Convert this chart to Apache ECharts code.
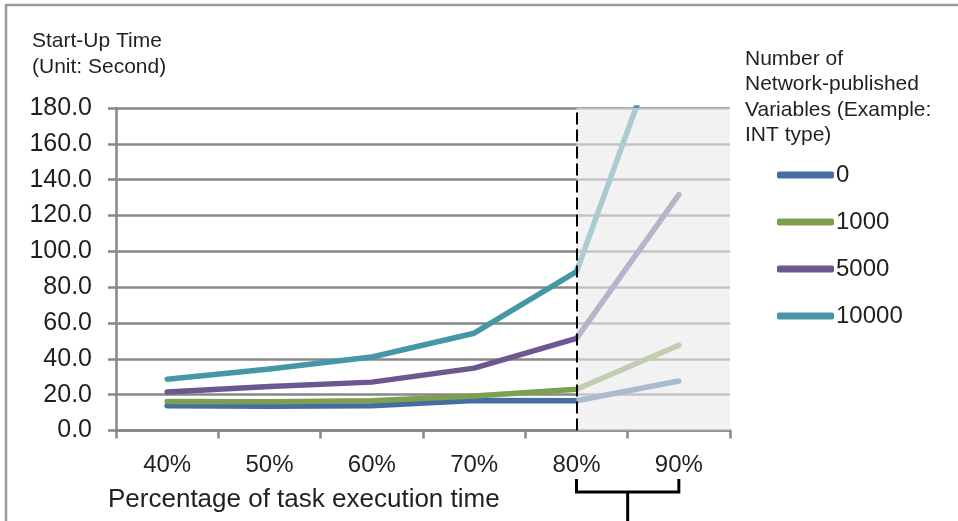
<!DOCTYPE html>
<html>
<head>
<meta charset="utf-8">
<script src="https://cdn.jsdelivr.net/npm/echarts@6/dist/echarts.min.js"></script>
<style>
html,body{margin:0;padding:0;background:#fff;}
#c{width:958px;height:521px;}
</style>
</head>
<body>
<div id="c"></div>
<script>
var categories = ['40%', '50%', '60%', '70%', '80%', '90%'];
var seriesNames = ['0', '1000', '5000', '10000'];
var vals0 = [13.8, 13.5, 13.8, 16.8, 16.6, 27.6];
var vals1000 = [16.2, 16.0, 16.6, 19.2, 23.0, 47.6];
var vals5000 = [21.5, 24.6, 27.0, 34.8, 51.4, 131.7];
var vals10000 = [28.6, 34.3, 41.0, 54.3, 88.7, 246.0];
var yMin = 0, yMax = 180, yStep = 20;
var shadeStart = 4.5, shadeEnd = 6; // on hidden 0..6 axis (80% center to end)

var colors = ['#456ea0', '#7e9f52', '#6b5890', '#4597a8'];
var FONT = 'Liberation Sans, Arial, sans-serif';
var TXT = '#231f20';

var chart = echarts.init(document.getElementById('c'), null, {renderer: 'canvas'});

function mkSeries(name, data, color) {
  return {
    name: name, type: 'line', data: data, xAxisIndex: 0,
    symbol: 'none', showSymbol: false, smooth: false,
    lineStyle: {width: 5.5, color: color, cap: 'round', join: 'round'},
    itemStyle: {color: color}, z: 2
  };
}

var option = {
  animation: false,
  backgroundColor: '#ffffff',
  title: [
    {text: 'Start-Up Time\n(Unit: Second)', left: 27, top: 23,
     textStyle: {fontFamily: FONT, fontSize: 21, fontWeight: 'normal', color: TXT, lineHeight: 26}},
    {text: 'Number of\nNetwork-published\nVariables (Example:\nINT type)', left: 740, top: 41,
     textStyle: {fontFamily: FONT, fontSize: 21, fontWeight: 'normal', color: TXT, lineHeight: 25.5}},
    {text: 'Percentage of task execution time', left: 103, top: 482,
     textStyle: {fontFamily: FONT, fontSize: 26, fontWeight: 'normal', color: TXT}}
  ],
  legend: {
    orient: 'vertical', left: 772, top: 158,
    data: seriesNames,
    icon: 'roundRect', itemWidth: 57, itemHeight: 7, itemGap: 23,
    textStyle: {fontFamily: FONT, fontSize: 24, color: TXT, lineHeight: 24, padding: [0,0,0,-3]}
  },
  grid: {left: 116, right: 228, top: 108, bottom: 90.5, containLabel: false},
  xAxis: [
    {type: 'category', data: categories, boundaryGap: true,
     axisLine: {lineStyle: {color: '#878787', width: 2.5}},
     axisTick: {show: true, length: 8, inside: false, lineStyle: {color: '#878787', width: 2.5}},
     axisLabel: {fontFamily: FONT, fontSize: 24, color: TXT, margin: 23},
     splitLine: {show: false}},
    {type: 'value', min: 0, max: 6, show: false}
  ],
  yAxis: {
    type: 'value', min: yMin, max: yMax, interval: yStep,
    axisLine: {show: true, lineStyle: {color: '#878787', width: 2.5}},
    axisTick: {show: true, length: 8, inside: false, lineStyle: {color: '#878787', width: 2.5}},
    axisLabel: {fontFamily: FONT, fontSize: 25, color: TXT, margin: 24,
      formatter: function (v) { return v.toFixed(1); }},
    splitLine: {show: true, lineStyle: {color: '#878787', width: 2.5}}
  },
  series: [
    mkSeries(seriesNames[0], vals0, colors[0]),
    mkSeries(seriesNames[1], vals1000, colors[1]),
    mkSeries(seriesNames[2], vals5000, colors[2]),
    mkSeries(seriesNames[3], vals10000, colors[3]),
    {
      name: 'shade', type: 'line', xAxisIndex: 1, data: [], silent: true,
      markArea: {silent: true, z: 10,
        itemStyle: {color: 'rgba(234,234,234,0.62)', borderWidth: 0},
        data: [[{xAxis: shadeStart}, {xAxis: shadeEnd}]]},
      markLine: {silent: true, z: 11, symbol: ['none', 'none'], label: {show: false},
        lineStyle: {color: '#000', type: [12, 5], width: 2},
        data: [{xAxis: shadeStart}]}
    }
  ]
};
chart.setOption(option);

var x80 = chart.convertToPixel({xAxisIndex: 0}, categories[4]);
var x90 = chart.convertToPixel({xAxisIndex: 0}, categories[5]);
var xm = (x80 + x90) / 2;
chart.setOption({
  graphic: [
    {type: 'line', shape: {x1: 5, y1: 5, x2: 958, y2: 5}, style: {stroke: '#9a9a9a', lineWidth: 2.5}},
    {type: 'line', shape: {x1: 6, y1: 4, x2: 6, y2: 521}, style: {stroke: '#9a9a9a', lineWidth: 2.5}},
    {type: 'polyline', shape: {points: [[x80, 479], [x80, 492], [x90, 492], [x90, 479]]},
     style: {stroke: '#000', lineWidth: 3, fill: null}},
    {type: 'line', shape: {x1: xm, y1: 492, x2: xm, y2: 521}, style: {stroke: '#000', lineWidth: 3}}
  ]
});
</script>
</body>
</html>
